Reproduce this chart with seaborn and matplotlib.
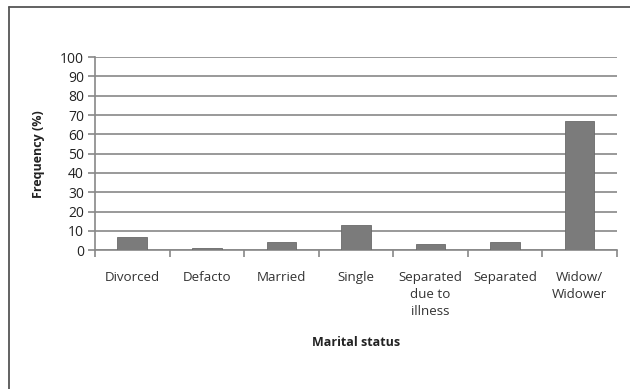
import matplotlib
matplotlib.use("Agg")
import matplotlib.pyplot as plt
import seaborn as sns
import pandas as pd
from matplotlib.lines import Line2D

categories = ["Divorced", "Defacto", "Married", "Single",
              "Separated\ndue to\nillness", "Separated", "Widow/\nWidower"]
frequency = [7, 1, 4, 13, 3, 4, 67]
y_ticks = list(range(0, 101, 10))

sns.set_theme(style="white")
plt.rcParams["font.family"] = ["Open Sans", "DejaVu Sans"]

df = pd.DataFrame({"status": categories, "freq": frequency})

fig = plt.figure(figsize=(6.3, 3.89), dpi=100)
ax = fig.add_axes([0.151, 0.357, 0.828, 0.496])

sns.barplot(data=df, x="status", y="freq", color="#7b7b7b", width=0.4,
            saturation=1, edgecolor="#6a6a6a", linewidth=0.6, ax=ax, zorder=3)

ax.set_ylim(0, 100)
ax.set_yticks(y_ticks)
ax.set_xlim(-0.5, len(categories) - 0.5)
ax.yaxis.grid(True, color="#888888", linewidth=1.2, zorder=0)
ax.set_axisbelow(True)

for side in ("top", "right"):
    ax.spines[side].set_visible(False)
for side in ("left", "bottom"):
    ax.spines[side].set_color("#888888")
    ax.spines[side].set_linewidth(1.2)

# category ticks sit on the boundaries between bars
ax.set_xticks(range(len(categories)))
ax.set_xticklabels(categories, fontsize=9.6, linespacing=1.4, va="top")
ax.tick_params(axis="x", length=0, pad=15, colors="#333333")
ax.set_xticks([i + 0.5 for i in range(-1, len(categories))], minor=True)
ax.tick_params(axis="x", which="minor", length=5, width=1.2, color="#888888",
               direction="out", bottom=True)
ax.tick_params(axis="y", length=5, width=1.2, color="#888888", direction="out",
               left=True, labelsize=10, labelcolor="#222222", pad=3)

ax.set_xlabel("Marital status", fontsize=9, fontweight="bold", labelpad=13,
              color="#222222")
ax.set_ylabel("Frequency (%)", fontsize=9, fontweight="bold", labelpad=11,
              color="#222222")

# outer chart frame
fig.add_artist(Line2D([9 / 630, 9 / 630], [0, 1 - 7 / 389],
                      transform=fig.transFigure, color="#555555", linewidth=1.3))
fig.add_artist(Line2D([9 / 630, 1], [1 - 7 / 389, 1 - 7 / 389],
                      transform=fig.transFigure, color="#555555", linewidth=1.3))

fig.savefig("out.png", dpi=100)
